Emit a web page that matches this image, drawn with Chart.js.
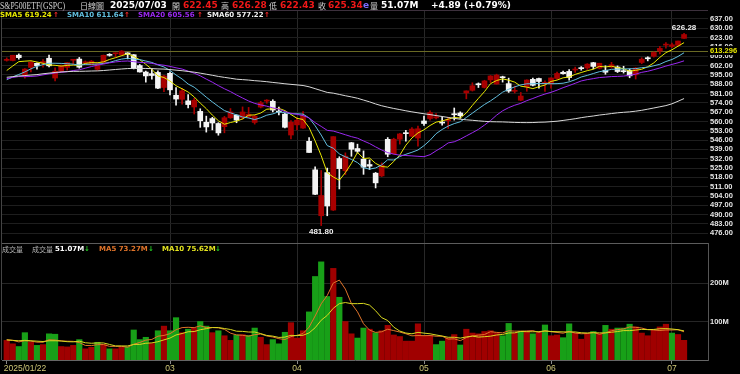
<!DOCTYPE html>
<html>
<head>
<meta charset="utf-8">
<script src="https://cdn.jsdelivr.net/npm/chart.js@4/dist/chart.umd.min.js"></script>
<style>
  html, body { margin: 0; padding: 0; background: #000; }
  canvas { display: block; }
</style>
</head>
<body>
<canvas id="chart" width="740" height="374"></canvas>
<script>
// ─── Data ────────────────────────────────────────────────────────────────────
const dates = [
    '01/22','01/23','01/24','01/27','01/28','01/29','01/30','01/31',
    '02/03','02/04','02/05','02/06','02/07','02/10','02/11','02/12','02/13','02/14',
    '02/18','02/19','02/20','02/21','02/24','02/25','02/26','02/27','02/28',
    '03/03','03/04','03/05','03/06','03/07','03/10','03/11','03/12','03/13','03/14',
    '03/17','03/18','03/19','03/20','03/21','03/24','03/25','03/26','03/27','03/28','03/31',
    '04/01','04/02','04/03','04/04','04/07','04/08','04/09','04/10','04/11','04/14',
    '04/15','04/16','04/17','04/21','04/22','04/23','04/24','04/25','04/28','04/29','04/30',
    '05/01','05/02','05/05','05/06','05/07','05/08','05/09','05/12','05/13','05/14',
    '05/15','05/16','05/19','05/20','05/21','05/22','05/23','05/27','05/28','05/29','05/30',
    '06/02','06/03','06/04','06/05','06/06','06/09','06/10','06/11','06/12','06/13',
    '06/16','06/17','06/18','06/20','06/23','06/24','06/25','06/26','06/27','06/30',
    '07/01','07/02','07/03'
];
const year = '2025';
const monthLabels = ['03', '04', '05', '06', '07'];

const opens = [
    605.92,605.80,609.81,594.81,600.62,603.72,603.96,607.50,592.67,597.83,
    600.64,605.99,606.89,604.03,602.55,599.20,604.48,609.94,610.88,610.08,
    611.54,610.16,602.02,597.15,595.93,596.85,585.56,596.18,579.71,576.69,
    575.48,570.90,567.59,559.40,562.17,558.49,556.11,562.79,564.80,562.83,
    563.33,559.28,570.80,575.30,575.19,567.18,565.53,549.83,557.45,555.05,
    545.11,523.67,489.19,521.59,493.44,532.17,523.01,544.05,539.67,531.68,
    527.64,521.16,519.11,546.59,535.77,546.65,551.39,548.91,547.57,560.37,
    562.22,562.73,559.13,560.61,565.24,566.36,581.47,583.41,587.81,585.56,
    591.25,588.10,593.09,588.44,582.66,575.98,586.07,591.64,592.30,588.64,
    588.32,592.32,596.96,597.63,598.66,599.72,600.21,604.18,600.01,598.50,
    600.94,600.90,598.00,598.38,595.04,604.33,607.91,608.99,612.88,617.38,
    616.36,617.24,622.45
];
const highs = [
    607.82,609.75,610.78,599.69,605.37,604.13,606.60,609.96,600.29,602.30,
    604.37,606.45,608.13,605.50,605.86,604.55,609.94,610.99,611.49,613.23,
    611.68,610.30,602.86,597.89,599.58,598.02,594.72,597.34,585.39,584.88,
    580.17,577.39,569.54,564.02,563.11,559.11,563.83,569.71,565.02,570.95,
    570.57,564.89,575.15,576.41,576.33,570.90,566.27,560.71,562.94,567.42,
    547.97,525.87,523.17,524.98,548.62,533.50,536.43,544.28,542.96,537.89,
    531.17,521.70,528.91,547.93,547.44,551.03,553.28,555.45,556.52,564.00,
    568.00,566.03,563.49,563.19,570.14,567.25,583.00,589.08,588.97,590.97,
    594.50,595.54,594.05,592.58,586.62,581.82,591.31,592.66,592.63,590.62,
    592.78,597.08,597.95,599.00,600.83,601.25,603.47,604.45,603.75,601.85,
    604.45,601.75,601.48,599.46,600.54,607.85,608.61,612.31,616.39,619.22,
    618.83,620.49,626.28
];
const lows = [
    605.36,605.52,606.80,592.56,597.25,599.22,600.72,601.05,590.49,597.28,
    598.58,602.63,600.05,602.74,602.43,598.51,603.20,609.07,608.38,609.56,
    607.02,599.47,597.08,589.56,591.86,584.65,582.44,579.90,572.25,573.08,
    570.12,565.63,555.59,552.02,553.69,549.68,551.49,562.35,559.06,561.63,
    562.60,558.03,570.20,573.69,567.19,564.94,555.07,546.87,553.68,554.81,
    536.70,505.06,481.80,489.16,493.06,509.32,520.07,533.86,536.33,520.29,
    523.91,510.07,518.58,533.51,535.44,543.02,545.28,548.55,541.52,557.03,
    560.92,561.92,557.20,554.77,561.05,562.39,577.04,582.84,585.54,585.10,
    589.28,588.10,589.60,581.82,581.41,575.60,582.71,586.78,584.97,582.55,
    585.06,591.85,595.49,591.05,596.86,598.51,599.09,599.52,599.52,595.48,
    600.22,596.76,596.35,592.86,591.89,603.41,605.54,608.37,610.83,615.04,
    615.52,616.61,622.43
];
const closes = [
    606.44,609.75,607.97,599.37,604.52,601.81,605.04,601.82,597.77,601.78,
    604.22,606.32,600.77,604.85,605.31,603.36,609.73,609.70,611.49,612.93,
    610.38,599.94,597.21,594.24,594.54,585.05,594.18,583.77,576.86,583.06,
    572.71,575.92,560.58,555.92,558.87,551.42,562.81,567.15,561.02,567.13,
    565.49,563.98,574.08,575.46,568.59,567.08,555.66,559.39,560.97,564.52,
    536.70,505.28,504.38,496.48,548.62,524.58,533.94,539.12,537.61,525.66,
    526.41,513.88,527.25,535.42,546.69,550.64,550.85,554.32,554.54,558.47,
    566.76,563.51,558.80,561.15,565.06,564.34,582.99,586.84,587.59,590.46,
    594.20,594.85,592.85,582.86,583.09,579.11,591.15,587.21,590.05,589.39,
    592.71,596.09,595.93,593.05,599.14,599.68,603.08,601.36,603.75,597.00,
    602.68,597.53,597.44,594.28,600.15,606.78,607.12,611.87,614.91,617.85,
    617.65,620.45,625.34
];
const sma5 = [
    598.30,601.69,604.96,605.32,605.61,604.68,603.74,602.51,602.19,601.64,
    602.13,602.38,602.17,603.59,604.29,604.12,604.80,606.59,607.92,609.44,
    610.85,608.89,606.39,602.94,599.26,594.20,593.04,590.36,586.88,584.58,
    582.12,578.46,573.83,569.64,564.80,560.54,557.92,559.23,560.25,561.91,
    564.72,564.95,566.34,569.23,569.52,569.84,568.17,565.24,562.34,561.52,
    555.45,545.37,534.37,521.47,518.29,515.87,521.60,528.55,536.77,532.18,
    532.55,528.54,526.16,525.72,529.93,534.78,542.17,547.58,551.41,553.76,
    556.99,559.52,560.42,561.74,563.06,562.57,566.47,572.08,577.36,582.44,
    588.42,590.79,591.99,591.04,589.57,586.55,585.81,584.68,586.12,587.38,
    590.10,591.09,592.83,593.43,595.38,596.78,598.18,599.26,601.40,600.97,
    601.57,600.46,599.68,597.79,598.42,599.24,601.15,604.04,608.17,611.71,
    613.88,616.55,619.24
];
const sma10 = [
    591.37,593.48,595.33,597.22,599.53,601.49,602.72,603.74,603.75,603.63,
    603.41,603.06,602.34,602.89,602.97,603.12,603.59,604.38,605.75,606.87,
    607.48,606.85,606.49,605.43,604.35,602.52,600.97,598.37,594.91,591.92,
    588.16,585.75,582.09,578.26,574.69,571.33,568.19,566.53,564.95,563.35,
    562.63,561.44,562.79,564.74,565.71,567.28,566.56,565.79,565.78,565.52,
    562.64,556.77,549.80,541.91,539.91,535.66,533.49,531.46,529.12,525.24,
    524.21,525.07,527.36,531.25,531.06,533.66,535.35,536.87,538.57,541.85,
    545.88,550.85,554.00,556.57,558.41,559.78,562.99,566.25,569.55,572.75,
    575.49,578.63,582.03,584.20,586.01,587.48,588.30,588.34,588.58,588.48,
    588.33,588.45,588.76,589.78,591.38,593.44,594.63,596.05,597.42,598.18,
    599.18,599.32,599.47,599.59,599.70,600.41,600.81,601.86,602.98,605.06,
    606.56,608.85,611.64
];
const sma20 = [
    592.17,593.10,593.77,593.67,593.83,594.17,595.01,595.80,596.45,596.94,
    597.39,598.27,598.84,600.05,601.25,602.31,603.16,604.06,604.75,605.25,
    605.44,604.95,604.42,604.16,603.66,602.82,602.28,601.38,600.33,599.40,
    597.82,596.30,594.29,591.84,589.52,586.93,584.58,582.45,579.93,577.64,
    575.39,573.60,572.44,571.50,570.20,569.30,567.38,566.16,565.36,564.44,
    562.64,559.11,556.30,553.32,552.81,551.47,550.03,548.62,547.45,545.38,
    543.43,540.92,538.58,536.58,535.48,534.66,534.42,534.17,533.84,533.54,
    535.05,537.96,540.68,543.91,544.73,546.72,549.17,551.56,554.06,557.30,
    560.69,564.74,568.02,570.39,572.21,573.63,575.65,577.29,579.07,580.61,
    581.91,583.54,585.40,586.99,588.70,590.46,591.47,592.19,593.00,593.33,
    593.75,593.89,594.12,594.69,595.54,596.92,597.72,598.95,600.20,601.62,
    602.87,604.09,605.56
];
const sma60 = [
    593.20,593.71,594.19,594.50,594.88,595.24,595.85,596.35,596.82,597.24,
    597.46,597.64,597.68,597.78,597.92,598.02,598.29,598.69,599.07,599.44,
    599.77,599.87,599.89,599.83,599.73,599.50,599.35,599.01,598.56,598.15,
    597.58,597.05,596.31,595.53,594.72,593.84,593.15,592.49,591.77,591.45,
    591.11,590.66,590.32,589.89,589.34,588.87,588.33,587.88,587.49,587.03,
    586.05,584.66,583.24,581.84,581.28,580.32,579.34,578.46,577.46,576.09,
    574.75,573.16,571.81,570.75,569.78,568.93,568.03,567.23,566.51,565.79,
    565.17,564.45,563.75,563.03,562.36,561.70,561.26,560.88,560.48,560.11,
    559.84,559.75,559.68,559.49,559.30,559.20,559.15,559.21,559.43,559.53,
    559.86,560.20,560.79,561.41,562.08,562.88,563.56,564.13,564.84,565.34,
    565.96,566.51,566.90,567.22,567.74,568.40,569.26,570.14,571.04,571.93,
    573.27,575.19,577.22
];
// volume in millions
const volumes = [
    51,42,35,71,46,38,40,68,67,35,
    34,38,53,29,33,46,40,29,29,34,
    34,78,53,59,43,76,88,76,110,71,
    80,83,100,88,71,76,63,51,65,66,
    64,83,59,40,53,42,72,97,57,76,
    125,217,255,165,238,163,100,68,57,83,
    80,71,76,90,65,61,49,49,94,63,
    63,40,49,57,66,39,80,70,68,74,
    76,71,63,95,70,75,74,68,71,91,
    63,65,58,94,70,54,68,74,68,90,
    80,83,83,93,86,70,63,77.85,86,93,
    70,66.3,51.07
];
const volMa5 = [
    53,51,47,50,49.0,46.4,46.0,52.6,51.8,49.6,
    48.8,48.4,45.4,37.8,37.4,39.8,40.2,35.4,35.4,35.6,
    33.2,40.8,45.6,51.6,53.4,61.8,63.8,68.4,78.6,84.2,
    85.0,84.0,88.8,84.4,84.4,83.6,79.6,69.8,65.2,64.2,
    61.8,65.8,67.4,62.4,59.8,55.4,53.2,60.8,64.2,68.8,
    85.4,114.4,146.0,167.6,200.0,207.6,184.2,146.8,125.2,94.2,
    77.6,71.8,73.4,80.0,76.4,72.6,68.2,62.8,63.6,63.2,
    63.6,61.8,61.8,54.4,55.0,50.2,58.2,62.4,64.6,66.2,
    73.6,71.8,70.4,75.8,75.0,74.8,75.4,76.4,71.6,75.8,
    73.4,71.6,69.6,74.2,70.0,68.2,68.8,72.0,66.8,70.8,
    76.0,79.0,80.8,85.8,85.0,83.0,79.0,77.97,76.57,77.97,
    77.97,78.63,73.27
];
const volMa10 = [
    52,51,50,51,50,49,48,50,50,49.3,
    47.6,47.2,49.0,44.8,43.5,44.3,44.3,40.4,36.6,36.5,
    36.5,40.5,40.5,43.5,44.5,47.5,52.3,57.0,65.1,68.8,
    73.4,73.9,78.6,81.5,84.3,84.3,81.8,79.3,74.8,74.3,
    72.7,72.7,68.6,63.8,62.0,58.6,59.5,64.1,63.3,64.3,
    70.4,83.8,103.4,115.9,134.4,146.5,149.3,146.4,146.4,147.1,
    142.6,128.0,110.1,102.6,85.3,75.1,70.0,68.1,71.8,69.8,
    68.1,65.0,62.3,59.0,59.1,56.9,60.0,62.1,59.5,60.6,
    61.9,65.0,66.4,70.2,70.6,74.2,73.6,73.4,73.7,75.4,
    74.1,73.5,73.0,72.9,72.9,70.8,70.2,70.8,70.5,70.4,
    72.1,73.9,76.4,76.3,77.9,79.5,79.0,79.39,81.19,81.49,
    80.49,78.82,75.62
];
const priceTicks = [476, 483, 490, 497, 504, 511, 518, 525, 532, 539, 546, 553,
    560, 567, 574, 581, 588, 595, 602, 609, 616, 623, 630, 637];
const volTicks = [100, 200];
const refLevel = 613.296;
const dayChange = '+4.89 (+0.79%)';

// ─── Colours ─────────────────────────────────────────────────────────────────
const UP = '#a80000';
const DOWN = '#f4f4f4';
const VOL_UP = '#a00000';
const VOL_DOWN = '#18a018';
const C_SMA5 = '#e8e800', C_SMA10 = '#62bede', C_SMA20 = '#9a28f0', C_SMA60 = '#d8d8d8';
const C_VMA5 = '#e0742a', C_VMA10 = '#d8d820';

// ─── Helpers ─────────────────────────────────────────────────────────────────
const idx = dates.map((d, i) => i);
const candleColors = idx.map(i => closes[i] >= opens[i] ? UP : DOWN);
const volColors = idx.map(i => (i === 0 || closes[i] >= closes[i - 1]) ? VOL_UP : VOL_DOWN);
// first date, then the first trading day of each labelled month
const tickIdx = [0].concat(monthLabels.map(m => dates.findIndex(d => d.slice(0, 2) === m)));
const pts = arr => arr.map((v, i) => ({ x: i, y: v }));
const last = arr => arr[arr.length - 1];

const FONT = "'DejaVu Sans'";
const CJK = "'Noto Sans CJK TC'";

function txt(ctx, s, x, y, color, font, align) {
    ctx.fillStyle = color;
    ctx.font = font;
    ctx.textAlign = align || 'left';
    ctx.fillText(s, x, y);
}

// ─── Overlay plugin: header texts, borders, labels ───────────────────────────
const overlay = {
    id: 'overlay',
    beforeDraw(chart) {
        const { ctx } = chart;
        ctx.save();
        ctx.fillStyle = '#000';
        ctx.fillRect(0, 0, chart.width, chart.height);
        ctx.restore();
    },
    beforeDatasetsDraw(chart) {
        const { ctx, chartArea: a, scales } = chart;
        const py = Math.round(scales.y.getPixelForValue(refLevel)) + 0.5;
        ctx.save();
        ctx.strokeStyle = '#6a6a24';
        ctx.lineWidth = 1;
        ctx.beginPath();
        ctx.moveTo(a.left, py);
        ctx.lineTo(a.right, py);
        ctx.stroke();
        ctx.restore();
    },
    afterDraw(chart) {
        const { ctx, chartArea: a, scales } = chart;
        const { x, y, yv } = scales;
        ctx.save();
        ctx.lineWidth = 1;

        // frame lines
        ctx.strokeStyle = '#3c303c';
        ctx.beginPath(); ctx.moveTo(0, a.top + 0.5); ctx.lineTo(a.right, a.top + 0.5); ctx.stroke();
        ctx.strokeStyle = '#5c5c5c';
        ctx.beginPath(); ctx.moveTo(a.left, Math.round(yv.top) + 0.5); ctx.lineTo(a.right, Math.round(yv.top) + 0.5); ctx.stroke();
        ctx.strokeStyle = '#444';
        ctx.beginPath(); ctx.moveTo(a.left - 0.5, a.top); ctx.lineTo(a.left - 0.5, a.bottom); ctx.stroke();

        ctx.textBaseline = 'middle';

        // reference level label on the axis
        const ry = y.getPixelForValue(refLevel);
        ctx.fillStyle = '#000';
        ctx.fillRect(a.right + 1, ry - 4.5, 40, 9);
        txt(ctx, refLevel.toFixed(3), a.right + 2, ry, '#e8e800', "bold 7.5px 'Liberation Sans'");

        // high / low labels
        let hi = 0, lo = 0;
        idx.forEach(i => { if (highs[i] > highs[hi]) hi = i; if (lows[i] < lows[lo]) lo = i; });
        ctx.textBaseline = 'bottom';
        txt(ctx, highs[hi].toFixed(2), x.getPixelForValue(hi), y.getPixelForValue(highs[hi]) - 1, '#f0f0f0', "bold 8px 'Liberation Sans'", 'center');
        ctx.textBaseline = 'top';
        txt(ctx, lows[lo].toFixed(2), x.getPixelForValue(lo), y.getPixelForValue(lows[lo]) + 2, '#f0f0f0', "bold 8px 'Liberation Sans'", 'center');

        // x labels
        ctx.textBaseline = 'middle';
        tickIdx.forEach((i, k) => {
            const px = x.getPixelForValue(i);
            if (k === 0) txt(ctx, year + '/' + dates[i], px - 3, a.bottom + 9, '#d0c878', "8.5px 'Liberation Sans'");
            else txt(ctx, monthLabels[k - 1], px, a.bottom + 9, '#d0c878', "8.5px 'Liberation Sans'", 'center');
        });

        // header line 1
        const n = closes.length - 1;
        const red = '#f01818', gray = '#d0d0d0';
        const big = 'bold 9px ' + FONT;
        ctx.save();
        ctx.font = "10px 'Liberation Serif'";
        ctx.fillStyle = gray;
        ctx.textAlign = 'left';
        ctx.fillText('S&P500ETF(GSPC)', 0, 6, 65);
        ctx.restore();
        txt(ctx, '日線圖', 80, 6, gray, '8px ' + CJK);
        txt(ctx, year + '/' + dates[n], 110, 6, '#ffffff', big);
        txt(ctx, '開', 172, 6, gray, '8px ' + CJK);
        txt(ctx, opens[n].toFixed(2), 183, 6, red, big);
        txt(ctx, '高', 221, 6, gray, '8px ' + CJK);
        txt(ctx, highs[n].toFixed(2), 232, 6, red, big);
        txt(ctx, '低', 269, 6, gray, '8px ' + CJK);
        txt(ctx, lows[n].toFixed(2), 280, 6, red, big);
        txt(ctx, '收', 318, 6, gray, '8px ' + CJK);
        txt(ctx, closes[n].toFixed(2), 328, 6, red, big);
        txt(ctx, 'e', 363, 6, '#7a6cff', big);
        txt(ctx, '量', 370, 6, gray, '8px ' + CJK);
        txt(ctx, volumes[n].toFixed(2) + 'M', 381, 6, '#ffffff', big);
        txt(ctx, dayChange, 431, 6, '#ffffff', big);

        // header line 2: moving averages
        const small = 'bold 7px ' + FONT;
        const arrowUp = '#ff2a2a', arrowDn = '#22c422';
        [['SMA5 ', sma5, C_SMA5, 0, 53], ['SMA10 ', sma10, C_SMA10, 67, 124],
         ['SMA20 ', sma20, C_SMA20, 138, 197], ['SMA60 ', sma60, C_SMA60, 207, 264]].forEach(([l, arr, c, x0, xa]) => {
            txt(ctx, l + last(arr).toFixed(2), x0, 15.5, c === C_SMA60 ? '#f0f0f0' : c, small);
            txt(ctx, '↑', xa, 15.5, arrowUp, small);
        });

        // volume header
        const vy = yv.top + 6;
        txt(ctx, '成交量', 2, vy, '#b4b4b4', '7px ' + CJK);
        txt(ctx, '成交量', 32, vy, '#b4b4b4', '7px ' + CJK);
        txt(ctx, volumes[n].toFixed(2) + 'M', 55, vy, '#ffffff', small);
        txt(ctx, '↓', 84, vy, arrowDn, small);
        txt(ctx, 'MA5 ' + last(volMa5).toFixed(2) + 'M', 99, vy, C_VMA5, small);
        txt(ctx, '↓', 148, vy, arrowDn, small);
        txt(ctx, 'MA10 ' + last(volMa10).toFixed(2) + 'M', 162, vy, '#e4e420', small);
        txt(ctx, '↓', 215, vy, arrowDn, small);

        ctx.restore();
    }
};

// ─── Chart ───────────────────────────────────────────────────────────────────
const lineDs = (arr, color, axis) => ({
    type: 'line', data: pts(arr), borderColor: color, borderWidth: 1,
    pointRadius: 0, fill: false, tension: 0, yAxisID: axis, order: 1
});

const tickFont = { family: 'Liberation Sans', size: 7.5, weight: 'bold' };

new Chart(document.getElementById('chart'), {
    type: 'bar',
    data: {
        datasets: [
            { data: idx.map(i => ({ x: i, y: [lows[i], highs[i]] })), backgroundColor: candleColors,
              barThickness: 1, grouped: false, yAxisID: 'y', order: 3 },
            { data: idx.map(i => ({ x: i, y: [opens[i], closes[i]] })), backgroundColor: candleColors,
              barThickness: 5, minBarLength: 1, grouped: false, yAxisID: 'y', order: 2 },
            { data: pts(volumes), backgroundColor: volColors,
              barThickness: 5.5, grouped: false, yAxisID: 'yv', order: 2 },
            lineDs(sma60, C_SMA60, 'y'),
            lineDs(sma20, C_SMA20, 'y'),
            lineDs(sma10, C_SMA10, 'y'),
            lineDs(sma5, C_SMA5, 'y'),
            lineDs(volMa10, C_VMA10, 'yv'),
            lineDs(volMa5, C_VMA5, 'yv')
        ]
    },
    options: {
        responsive: false,
        animation: false,
        devicePixelRatio: 1,
        layout: { padding: { left: 2, top: 10, right: 0, bottom: 0 } },
        plugins: { legend: { display: false }, tooltip: { enabled: false } },
        scales: {
            x: {
                type: 'linear', min: -0.78, max: 115.96, offset: false,
                afterBuildTicks: s => { s.ticks = tickIdx.map(v => ({ value: v })); },
                afterFit: s => { s.height = 14; },
                ticks: { display: false, autoSkip: false },
                grid: { offset: false, color: c => c.index === 0 ? 'rgba(0,0,0,0)' : '#282828',
                        tickColor: '#8a8a8a', tickLength: 4 },
                border: { color: '#666' }
            },
            y: {
                position: 'right', stack: 'panels', stackWeight: 233,
                min: 468.70, max: 643.76,
                afterBuildTicks: s => { s.ticks = priceTicks.map(v => ({ value: v })); },
                afterFit: s => { s.width = 32; },
                ticks: { color: '#e4e4e4', font: tickFont, padding: 2, autoSkip: false,
                         callback: v => v.toFixed(2) },
                grid: { color: '#1e1e1e', drawTicks: false },
                border: { display: false }
            },
            yv: {
                position: 'right', stack: 'panels', stackWeight: 117,
                min: 0, max: 304,
                afterBuildTicks: s => { s.ticks = volTicks.map(v => ({ value: v })); },
                afterFit: s => { s.width = 32; },
                ticks: { color: '#e4e4e4', font: tickFont, padding: 2, autoSkip: false,
                         callback: v => v + 'M' },
                grid: { color: '#262626', drawTicks: false },
                border: { color: '#555' }
            }
        }
    },
    plugins: [overlay]
});
</script>
</body>
</html>
